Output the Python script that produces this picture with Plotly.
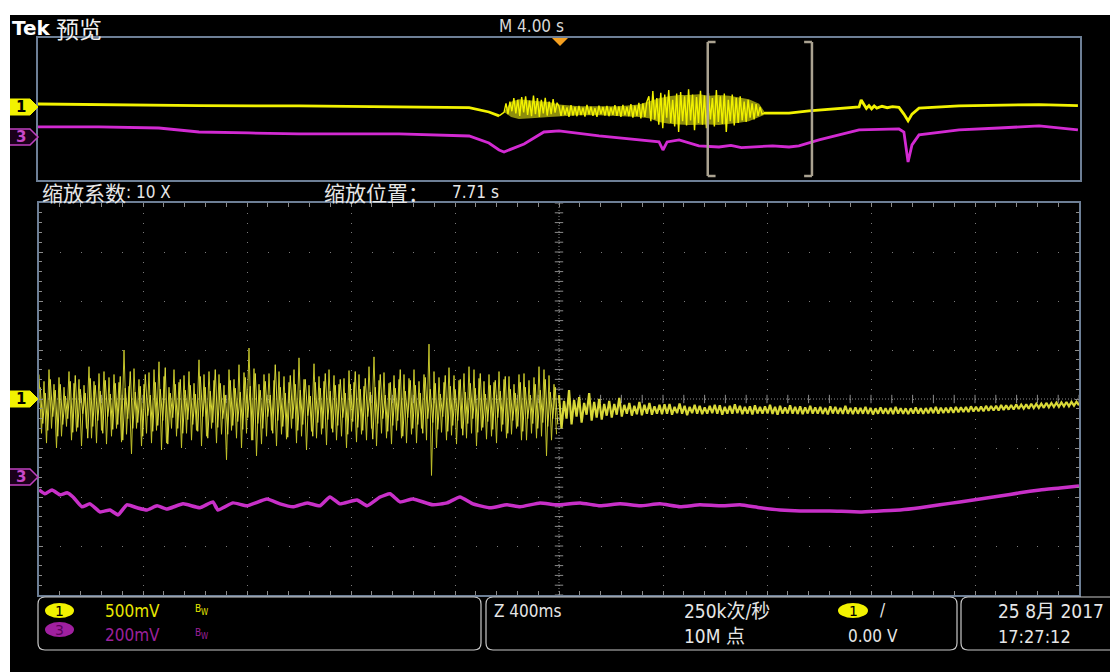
import numpy as np
import plotly.graph_objects as go

W, H = 1110, 672

# Overview record: M 4.00 s/div, time in s relative to trigger; values in mV
ov_ch1_head_t = [-20.04, -17.66, -13.82, -9.98, -6.14, -3.45, -2.69, -2.30]
ov_ch1_head_mv = [85, 60, 40, 30, 10, -20, -140, -250]
ov_ch1_burst_edges = [-2.11, 0.0, 3.45, 7.87]
ov_ch1_burst1_mv = [-150, 100, -200, 150, -120, 250, -180, 200, -250, 280, -150, 300, -220, 180,
                    -260, 320, -200, 250, -280, 200, -180, 260, -240, 150, -200, 220, -160, 120]
ov_ch1_burst2_mv = [20, -250, 40, -220, -10, -280, 50, -240, 0, -260, 30, -230, -20, -270, 60,
                    -210, 10, -250, -30, -280, 40, -200, 0, -240, 30, -260, -10, -220, 50, -250,
                    20, -280, 60, -230, 0, -260, 80, -300, 40, -250, 120, -320, 100, -280, 150]
ov_ch1_burst3_mv = [300, -400, 450, -350, 250, -500, 400, -600, 350, -300, 480, -450, 200, -550,
                    380, -700, 420, -400, 300, -520, 500, -380, 350, -650, 280, -450, 460, -500,
                    320, -600, 400, -350, 250, -550, 480, -420, 300, -480, 380, -700, 200, -400,
                    350, -520, 260, -450, 300, -380, 150, -420, 200, -300, 100, -350, 80, -250,
                    0, -200]
# dense core of the bursts (upper / lower edge of the bright band)
ov_ch1_core_t = [-2.11, -1.84, -1.54, -1.15, -0.77, -0.38, 0.0, 0.77, 1.54, 2.30, 3.07, 3.45,
                 3.84, 4.22, 4.61, 4.99, 5.37, 5.76, 6.14, 6.53, 6.91, 7.29, 7.68, 7.87]
ov_ch1_core_hi = [-141, 150, 220, 180, 160, 140, 70, 20, 20, 20, 70, 150,
                  250, 300, 340, 340, 360, 320, 340, 320, 270, 220, 90, -113]
ov_ch1_core_lo = [-141, -280, -340, -320, -300, -280, -250, -230, -230, -250, -280, -320,
                  -420, -470, -490, -510, -510, -490, -510, -470, -440, -400, -280, -225]
ov_ch1_tail_t = [7.87, 8.83, 9.60, 10.36, 11.52, 11.60, 11.70, 11.80, 11.90, 12.00, 12.10, 12.20,
                 12.40, 12.60, 12.80, 13.05, 13.24, 13.40, 13.55, 13.82, 15.36, 16.89, 18.43, 19.92]
ov_ch1_tail_mv = [-170, -170, -110, -60, 0, 200, 60, -40, 40, -50, 30, -30,
                  20, -20, 10, -10, -200, -390, -200, -30, 30, 60, 70, 40]

ov_ch3_t = [-20.04, -17.66, -15.36, -13.82, -11.90, -9.98, -6.14, -3.45, -2.69, -2.30,
            -2.11, -1.73, -1.34, -0.58, 0.0, 1.54, 3.07, 3.84, 3.99, 4.15,
            4.61, 5.37, 6.14, 6.60, 7.00, 7.68, 8.20, 8.83, 9.21, 9.98,
            11.52, 13.05, 13.24, 13.40, 13.55, 13.82, 15.36, 16.89, 18.43, 19.92]
ov_ch3_mv = [113, 113, 101, 56, 45, 34, 34, 11, -68, -147,
             -169, -124, -79, 56, 68, 11, -34, -56, -147, -56,
             -34, -101, -113, -95, -120, -113, -100, -113, -101, -34,
             79, 90, 56, -282, -90, 23, 79, 101, 124, 79]

# Zoomed window: 400 ms/div, centre 7.71 s
zoom_t0, zoom_t1 = 5.71, 9.71
# CH1 (500 mV/div) per-column max / min: noisy first half (two interleaved passes)
zoom_ch1_hi_a = [250, 180, 300, 150, 220, 120, 280, 160, 200, 140,
                 330, 180, 260, 280, 220, 250, 170, 500, 130, 310,
                 200, 150, 270, 300, 380, 230, 120, 300, 170, 240,
                 280, 160, 400, 250, 280, 190, 250, 140, 300, 200,
                 350, 270, 520, 310, 150, 250, 260, 190, 280, 230,
                 170, 300, 420, 200, 140, 360, 230, 180, 300, 240,
                 150, 210, 290, 170, 250, 130, 330, 430, 190, 270,
                 160, 240, 200, 250, 210, 300, 180, 250, 560, 280,
                 220, 170, 320, 240, 190, 260, 330, 300, 210, 180,
                 250, 170, 280, 200, 230, 150, 250, 260, 190, 220,
                 330, 300, 240, 150]
zoom_ch1_lo_a = [-350, -450, -300, -500, -380, -280, -420, -330, -480, -300,
                 -400, -450, -320, -460, -380, -300, -440, -360, -560, -300,
                 -480, -350, -450, -320, -520, -450, -300, -380, -500, -350,
                 -420, -320, -480, -380, -300, -450, -360, -620, -320, -400,
                 -500, -350, -420, -580, -460, -380, -320, -480, -360, -410,
                 -300, -450, -380, -520, -330, -400, -360, -470, -300, -420,
                 -380, -500, -330, -440, -360, -420, -300, -480, -350, -400,
                 -460, -320, -400, -450, -360, -450, -300, -420, -780, -500,
                 -340, -420, -370, -460, -300, -400, -350, -480, -320, -410,
                 -380, -450, -330, -400, -360, -300, -420, -420, -350, -400,
                 -380, -580, -420, -360]
zoom_ch1_hi_a2 = [120, 60, 200, 90, 150, 30, 180, 240, 100, 60,
                  210, 140, 80, 190, 50, 160, 230, 110, 280, 70,
                  130, 250, 40, 170, 100, 320, 60, 150, 200, 90,
                  140, 50, 230, 120, 80, 300, 160, 40, 190, 110,
                  70, 220, 130, 260, 90, 180, 40, 350, 120, 60,
                  240, 150, 90, 200, 30, 170, 110, 260, 80, 140,
                  200, 60, 150, 280, 100, 210, 70, 120, 250, 40,
                  170, 110, 300, 80, 190, 140, 60, 220, 100, 160,
                  50, 240, 130, 90, 200, 70, 160, 110, 260, 50,
                  140, 190, 80, 230, 100, 60, 170, 120, 40, 150,
                  90, 200, 70, 120]
zoom_ch1_lo_a2 = [-250, -320, -180, -380, -260, -200, -340, -290, -150, -400,
                  -280, -220, -350, -180, -310, -260, -420, -200, -300, -240,
                  -380, -170, -330, -270, -220, -460, -190, -300, -350, -210,
                  -260, -330, -180, -400, -240, -290, -200, -360, -270, -230,
                  -310, -190, -420, -250, -300, -180, -350, -220, -280, -390,
                  -200, -320, -260, -170, -380, -240, -300, -210, -340, -270,
                  -190, -360, -230, -290, -320, -180, -410, -250, -200, -330,
                  -270, -220, -380, -190, -300, -260, -350, -200, -240, -310,
                  -180, -330, -270, -220, -370, -250, -200, -340, -290, -230,
                  -310, -190, -260, -350, -220, -280, -330, -200, -250, -300,
                  -240, -280, -200, -260]
# quiet second half
zoom_ch1_hi_b = [40, -20, 90, -10, 20, -40, 60, -30, 0, -50,
                 -20, -50, 10, -60, -40, -70, -30, -60, -40, -75,
                 -60, -55, -50, -80, -45, -70, -80, -60, -70, -85,
                 -70, -60, -65, -80, -70, -55, -70, -80, -75, -65,
                 -80, -75, -60, -80, -70, -85, -65, -80, -75, -85,
                 -70, -85, -80, -90, -75, -80, -90, -70, -90, -85,
                 -90, -80, -90, -95, -85, -95, -90, -80, -93, -95,
                 -95, -85, -95, -93, -90, -80, -88, -90, -85, -80,
                 -85, -82, -75, -80, -78, -70, -72, -70, -62, -65,
                 -62, -55, -58, -55, -48, -50, -47, -40, -41, -38,
                 -35, -30, -30, -28]
zoom_ch1_lo_b = [-300, -200, -260, -180, -240, -160, -220, -190, -210, -170,
                 -190, -160, -180, -150, -170, -155, -165, -150, -160, -150,
                 -155, -150, -160, -145, -150, -165, -145, -150, -155, -150,
                 -145, -150, -160, -150, -150, -145, -155, -150, -158, -148,
                 -150, -148, -152, -160, -150, -148, -150, -152, -155, -148,
                 -150, -150, -152, -158, -148, -150, -152, -150, -155, -150,
                 -150, -152, -158, -150, -150, -152, -155, -148, -150, -155,
                 -148, -148, -150, -145, -145, -148, -142, -140, -142, -135,
                 -132, -134, -128, -125, -126, -120, -117, -118, -111, -108,
                 -108, -102, -99, -100, -93, -90, -90, -84, -81, -80,
                 -75, -74, -68, -64]
# CH3 (200 mV/div)
zoom_ch3_t = [5.710, 5.733, 5.760, 5.791, 5.818, 5.841, 5.875, 5.906, 5.945, 5.983,
              6.014, 6.048, 6.087, 6.125, 6.164, 6.202, 6.264, 6.329, 6.379, 6.398,
              6.456, 6.510, 6.587, 6.637, 6.687, 6.741, 6.790, 6.829, 6.867, 6.933,
              6.972, 7.022, 7.060, 7.098, 7.148, 7.225, 7.279, 7.329, 7.379, 7.445,
              7.510, 7.560, 7.637, 7.702, 7.791, 7.868, 7.945, 8.022, 8.098, 8.175,
              8.252, 8.329, 8.406, 8.483, 8.560, 8.637, 8.752, 8.868, 8.945, 9.022,
              9.098, 9.175, 9.252, 9.329, 9.406, 9.483, 9.560, 9.637, 9.710]
zoom_ch3_mv = [-53, -69, -53, -73, -65, -82, -122, -110, -143, -135,
               -155, -114, -126, -135, -118, -131, -110, -126, -102, -135,
               -106, -118, -90, -110, -122, -106, -118, -82, -110, -94,
               -118, -82, -69, -102, -90, -114, -106, -82, -110, -126,
               -114, -122, -106, -114, -106, -118, -110, -118, -110, -122,
               -114, -118, -114, -126, -135, -139, -139, -143, -139, -135,
               -126, -114, -102, -90, -78, -65, -53, -45, -37]

ch1_label, ch3_label = "500mV", "200mV"

# ---------------- helpers (pixel -> paper) ----------------
def PX(x):
    return x / W


def PY(y):
    return 1 - y / H


YEL = "#f2f200"
MAG = "#d22ad2"
FN = "Liberation Sans Narrow, DejaVu Sans Condensed, Arial Narrow, Noto Sans CJK SC, sans-serif"
CJK = "Noto Sans CJK SC, Noto Sans, sans-serif"

# ---------------- traces ----------------
b1_t = np.linspace(ov_ch1_burst_edges[0], ov_ch1_burst_edges[1], len(ov_ch1_burst1_mv), endpoint=False)
b2_t = np.linspace(ov_ch1_burst_edges[1], ov_ch1_burst_edges[2], len(ov_ch1_burst2_mv), endpoint=False)
b3_t = np.linspace(ov_ch1_burst_edges[2], ov_ch1_burst_edges[3], len(ov_ch1_burst3_mv), endpoint=False)
ov1_t = np.concatenate([ov_ch1_head_t[-1:], b1_t, b2_t, b3_t, ov_ch1_tail_t[:1]])
ov1_v = np.concatenate([ov_ch1_head_mv[-1:], ov_ch1_burst1_mv, ov_ch1_burst2_mv, ov_ch1_burst3_mv,
                        ov_ch1_tail_mv[:1]])

half = (zoom_t0 + zoom_t1) / 2
n_cols = len(zoom_ch1_hi_a)
col_w = (half - zoom_t0) / n_cols
za_v = np.column_stack([zoom_ch1_hi_a, zoom_ch1_lo_a]).ravel()
za_t = zoom_t0 + np.arange(len(za_v)) * col_w / 2
zb_v = np.column_stack([zoom_ch1_hi_a2, zoom_ch1_lo_a2]).ravel()
zb_t = zoom_t0 + col_w / 4 + np.arange(len(zb_v)) * col_w / 2
zc_v = np.column_stack([zoom_ch1_hi_b, zoom_ch1_lo_b]).ravel()
zc_t = np.linspace(half, zoom_t1, len(zc_v))

fig = go.Figure()
fig.add_trace(go.Scatter(x=ov_ch3_t, y=ov_ch3_mv, mode="lines", xaxis="x", yaxis="y2",
                         line=dict(color=MAG, width=2.8), hoverinfo="skip"))
fig.add_trace(go.Scatter(x=list(ov_ch1_core_t) + list(ov_ch1_core_t[::-1]),
                         y=list(ov_ch1_core_hi) + list(ov_ch1_core_lo[::-1]),
                         mode="lines", fill="toself", fillcolor="rgba(235,235,20,0.6)",
                         line=dict(width=0), xaxis="x", yaxis="y", hoverinfo="skip"))
fig.add_trace(go.Scatter(x=ov1_t, y=ov1_v, mode="lines", xaxis="x", yaxis="y",
                         line=dict(color=YEL, width=1.4), hoverinfo="skip"))
for tt, vv in [(ov_ch1_head_t, ov_ch1_head_mv), (ov_ch1_tail_t, ov_ch1_tail_mv)]:
    fig.add_trace(go.Scatter(x=tt, y=vv, mode="lines", xaxis="x", yaxis="y",
                             line=dict(color=YEL, width=2.8), hoverinfo="skip"))

# centre cross tick marks (graticule decoration)
cross_y = np.arange(-2000, 2001, 100)
cross_x = zoom_t0 + np.arange(0, 51) * 0.08
fig.add_trace(go.Scatter(x=[7.71] * len(cross_y), y=cross_y, mode="markers", xaxis="x2", yaxis="y3",
                         marker=dict(symbol="line-ew", size=6, line=dict(color="#8a8a8a", width=1)),
                         hoverinfo="skip"))
fig.add_trace(go.Scatter(x=cross_x, y=[0] * len(cross_x), mode="markers", xaxis="x2", yaxis="y3",
                         marker=dict(symbol="line-ns", size=6, line=dict(color="#8a8a8a", width=1)),
                         hoverinfo="skip"))

fig.add_trace(go.Scatter(x=zoom_ch3_t, y=zoom_ch3_mv, mode="lines", xaxis="x2", yaxis="y4",
                         line=dict(color="#c830c8", width=3.5, shape="spline", smoothing=0.4),
                         hoverinfo="skip"))
fig.add_trace(go.Scatter(x=za_t, y=za_v, mode="lines", xaxis="x2", yaxis="y3",
                         line=dict(color="#c4c42a", width=1), hoverinfo="skip"))
fig.add_trace(go.Scatter(x=zb_t, y=zb_v, mode="lines", xaxis="x2", yaxis="y3",
                         line=dict(color="#dada3c", width=1), hoverinfo="skip"))
fig.add_trace(go.Scatter(x=zc_t, y=zc_v, mode="lines", xaxis="x2", yaxis="y3",
                         line=dict(color="#d8d838", width=2.2), hoverinfo="skip"))

# ---------------- axes ----------------
BORDER = "#6d7f96"
fig.update_layout(
    width=W, height=H, margin=dict(l=0, r=0, t=0, b=0),
    paper_bgcolor="black", plot_bgcolor="black", showlegend=False,
    xaxis=dict(domain=[PX(38), PX(1080)], range=[-20, 20], anchor="y",
               showgrid=False, zeroline=False, showticklabels=False, ticks="",
               showline=True, mirror=True, linecolor=BORDER, linewidth=1.5),
    yaxis=dict(domain=[PY(180), PY(38)], range=[-2056, 1944], anchor="x",
               showgrid=False, zeroline=False, showticklabels=False, ticks="",
               showline=True, mirror=True, linecolor=BORDER, linewidth=1.5),
    yaxis2=dict(overlaying="y", range=[-485, 1115], anchor="x", visible=False),
    xaxis2=dict(domain=[PX(39), PX(1079)], range=[zoom_t0, zoom_t1], anchor="y3",
                tick0=zoom_t0, dtick=0.4, showgrid=True, gridcolor="#7a7a7a", gridwidth=1,
                griddash="1px,8.8px", zeroline=False, showticklabels=False,
                ticks="inside", ticklen=4, tickcolor="#8a8a8a",
                minor=dict(dtick=0.08, tick0=zoom_t0, ticks="inside", ticklen=3, tickcolor="#8a8a8a",
                           showgrid=False),
                showline=True, mirror="allticks", linecolor=BORDER, linewidth=1.5),
    yaxis3=dict(domain=[PY(595), PY(203)], range=[-2000, 2000], anchor="x2",
                dtick=500, showgrid=True, gridcolor="#7a7a7a", gridwidth=1,
                griddash="1px,19.8px", zeroline=False, showticklabels=False,
                ticks="inside", ticklen=4, tickcolor="#8a8a8a",
                minor=dict(dtick=100, ticks="inside", ticklen=3, tickcolor="#8a8a8a", showgrid=False),
                showline=True, mirror="allticks", linecolor=BORDER, linewidth=1.5),
    yaxis4=dict(overlaying="y3", range=[-482, 1118], anchor="x2", visible=False),
)

shapes = []
ann = []

# centre cross lines
shapes.append(dict(type="line", xref="x2", yref="y3", x0=7.71, x1=7.71, y0=-2000, y1=2000,
                   line=dict(color="#8a8a8a", width=1, dash="1px,2px"), layer="below"))
shapes.append(dict(type="line", xref="x2", yref="y3", x0=zoom_t0, x1=zoom_t1, y0=0, y1=0,
                   line=dict(color="#8a8a8a", width=1, dash="1px,2px"), layer="below"))

# zoom bracket in overview
BR = "#aaa290"
for tx, d in [(zoom_t0, 1), (zoom_t1, -1)]:
    shapes.append(dict(type="line", xref="x", yref="paper", x0=tx, x1=tx, y0=PY(176), y1=PY(42),
                       line=dict(color=BR, width=2.5)))
    for yy in (42, 176):
        shapes.append(dict(type="line", xref="x", yref="paper", x0=tx, x1=tx + d * 0.3,
                           y0=PY(yy), y1=PY(yy), line=dict(color=BR, width=2.5)))

# trigger position triangle
shapes.append(dict(type="path", xref="paper", yref="paper",
                   path=f"M {PX(552)},{PY(38)} L {PX(568)},{PY(38)} L {PX(560)},{PY(46)} Z",
                   fillcolor="#f5a020", line=dict(width=0)))


def chan_marker(py, num, filled):
    path = (f"M {PX(9)},{PY(py - 8)} L {PX(30)},{PY(py - 8)} L {PX(38)},{PY(py)} "
            f"L {PX(30)},{PY(py + 8)} L {PX(9)},{PY(py + 8)} Z")
    if filled:
        shapes.append(dict(type="path", xref="paper", yref="paper", path=path,
                           fillcolor=YEL, line=dict(color=YEL, width=1)))
        col = "black"
    else:
        shapes.append(dict(type="path", xref="paper", yref="paper", path=path,
                           fillcolor="#1a001a", line=dict(color="#c040c0", width=1.5)))
        col = "#c848c8"
    ann.append(dict(x=PX(21), y=PY(py), xref="paper", yref="paper", text=num,
                    showarrow=False, xanchor="center", yanchor="middle",
                    font=dict(family="DejaVu Sans", size=15, color=col, weight="bold")))


chan_marker(107, "1", True)
chan_marker(137, "3", False)
chan_marker(399, "1", True)
chan_marker(477, "3", False)


def rbox(x0, y0, x1, y1, r=7):
    p = (f"M {PX(x0 + r)},{PY(y0)} L {PX(x1 - r)},{PY(y0)} Q {PX(x1)},{PY(y0)} {PX(x1)},{PY(y0 + r)} "
         f"L {PX(x1)},{PY(y1 - r)} Q {PX(x1)},{PY(y1)} {PX(x1 - r)},{PY(y1)} "
         f"L {PX(x0 + r)},{PY(y1)} Q {PX(x0)},{PY(y1)} {PX(x0)},{PY(y1 - r)} "
         f"L {PX(x0)},{PY(y0 + r)} Q {PX(x0)},{PY(y0)} {PX(x0 + r)},{PY(y0)} Z")
    shapes.append(dict(type="path", xref="paper", yref="paper", path=p,
                       line=dict(color="#c8c8c8", width=1.2)))


rbox(38, 597, 481, 650)
rbox(486, 597, 957, 650)
rbox(961, 597, 1125, 650)


def pill(x0, y0, x1, y1, color, num, tcol):
    shapes.append(dict(type="circle", xref="paper", yref="paper", x0=PX(x0), x1=PX(x1),
                       y0=PY(y1), y1=PY(y0), fillcolor=color, line=dict(width=0)))
    ann.append(dict(x=PX((x0 + x1) / 2), y=PY((y0 + y1) / 2), xref="paper", yref="paper",
                    text=num, showarrow=False, xanchor="center", yanchor="middle",
                    font=dict(family="DejaVu Sans", size=14, color=tcol)))


pill(45, 603, 74, 618, YEL, "1", "black")
pill(45, 622, 74, 637, "#a020a0", "3", "#5a005a")
pill(838, 603, 868, 618, YEL, "1", "black")


def txt(x, y, s, size=16, color="#e6e6e6", family=FN, anchor="left", weight="normal"):
    ann.append(dict(x=PX(x), y=PY(y), xref="paper", yref="paper", text=s, showarrow=False,
                    xanchor=anchor, yanchor="middle",
                    font=dict(family=family, size=size, color=color, weight=weight)))


txt(10, 28, "Tek", 20, "white", "DejaVu Sans", weight="bold")
txt(54, 28, "预览", 23, "#f0f0f0", CJK)
txt(531, 26, "M 4.00 s", 17, "#d8d8d8", FN, "center")
txt(40, 192, "缩放系数", 21, "#e6e6e6", CJK)
txt(124, 192, ": 10 X", 17, "#e6e6e6", FN)
txt(322, 192, "缩放位置：", 21, "#e6e6e6", CJK)
txt(450, 192, "7.71 s", 17, "#e6e6e6", FN)

txt(103, 611, ch1_label, 17, "#e8e800")
txt(103, 635, ch3_label, 17, "#9c209c")
for yy, cc in [(608, "#e8e800"), (632, "#9c209c")]:
    txt(193, yy, "B", 10, cc)
    txt(199, yy + 4, "W", 8, cc)
txt(492, 611, "Z 400ms", 17)
txt(682, 611, "250k次/秒", 19)
txt(682, 636, "10M 点", 19)
txt(878, 610, "/", 17)
txt(846, 636, "0.00 V", 17)
txt(996, 611, "25 8月 2017", 19)
txt(996, 636, "17:27:12", 18)

# white frame outside the screen capture
shapes.append(dict(type="rect", xref="paper", yref="paper", x0=0, x1=1, y0=PY(15), y1=1,
                   fillcolor="white", line=dict(width=0), layer="above"))
shapes.append(dict(type="rect", xref="paper", yref="paper", x0=0, x1=PX(10), y0=0, y1=1,
                   fillcolor="white", line=dict(width=0), layer="above"))

fig.update_layout(shapes=shapes, annotations=ann)
fig.write_html("out.html", config={"displayModeBar": False},
               post_script="document.body.style.margin='0px';")
